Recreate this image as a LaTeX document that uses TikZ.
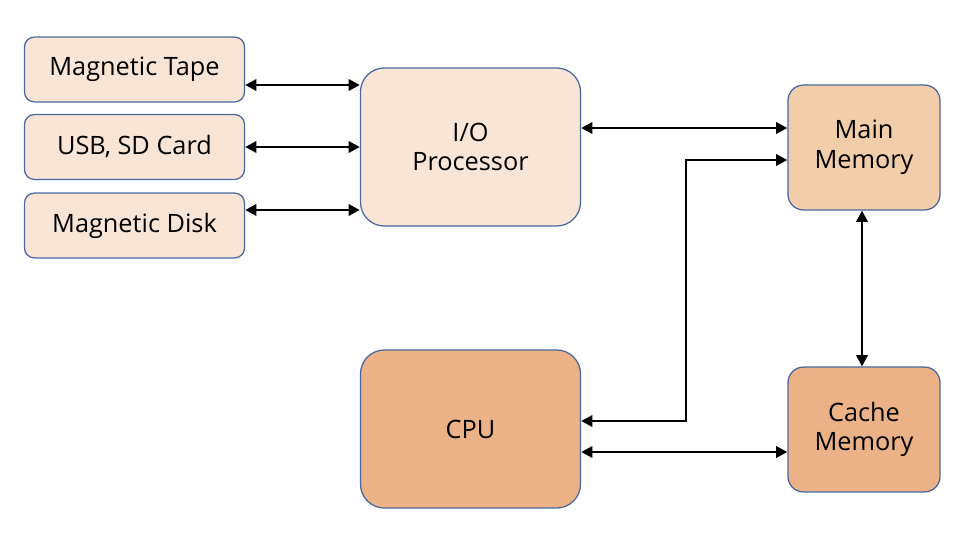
\documentclass[tikz,border=0pt]{standalone}
\usepackage{fontspec}
\setmainfont{Open Sans}
\usetikzlibrary{arrows.meta, positioning}
\definecolor{boxline}{HTML}{4A68A0}
\definecolor{paleorange}{HTML}{F8E5D6}
\definecolor{midorange}{HTML}{F2CDAA}
\definecolor{darkorange}{HTML}{EBB287}
\tikzset{
  unit/.style={draw=boxline, line width=0.9pt, font=\fontsize{18}{21}\selectfont, align=center, inner sep=0pt},
  device/.style={unit, fill=paleorange, rounded corners=7pt, minimum width=5.5cm, minimum height=1.62cm},
  bigunit/.style={unit, rounded corners=17pt, minimum width=5.5cm, minimum height=3.95cm},
  memunit/.style={unit, rounded corners=11pt, minimum width=3.8cm, minimum height=3.12cm},
  bus/.style={line width=1.9pt, {Triangle[length=8pt,width=8pt]}-{Triangle[length=8pt,width=8pt]}}
}
\begin{document}
\begin{tikzpicture}[x=0.025cm, y=-0.025cm]
	\useasboundingbox (0,0) rectangle (965,547);

	%devices
	\node[device] (tape) at (134.5, 69.5) {Magnetic Tape};
	\node[device] (usb) at (134.5, 147) {USB, SD Card};
	\node[device] (disk) at (134.5, 225.5) {Magnetic Disk};

	%processors
	\node[bigunit, fill=paleorange] (io) at (470.5, 147) {I/O\\Processor};
	\node[bigunit, fill=darkorange] (cpu) at (470.5, 429) {CPU};

	%memories
	\node[memunit, fill=midorange] (main) at (864, 147.5) {Main\\Memory};
	\node[memunit, fill=darkorange] (cache) at (864, 429.5) {Cache\\Memory};

	%buses
	\draw[bus] (tape.east |- 0,85) -- (io.west |- 0,85);
	\draw[bus] (usb.east |- 0,147) -- (io.west |- 0,147);
	\draw[bus] (disk.east |- 0,210) -- (io.west |- 0,210);

	\draw[bus] (io.east |- 0,128) -- (main.west |- 0,128);
	\draw[bus] (main.west |- 0,160) -- (686,160) -- (686,421) -- (cpu.east |- 0,421);
	\draw[bus] (main.south -| 862,0) -- (cache.north -| 862,0);
	\draw[bus] (cpu.east |- 0,452) -- (cache.west |- 0,452);
\end{tikzpicture}
\end{document}
